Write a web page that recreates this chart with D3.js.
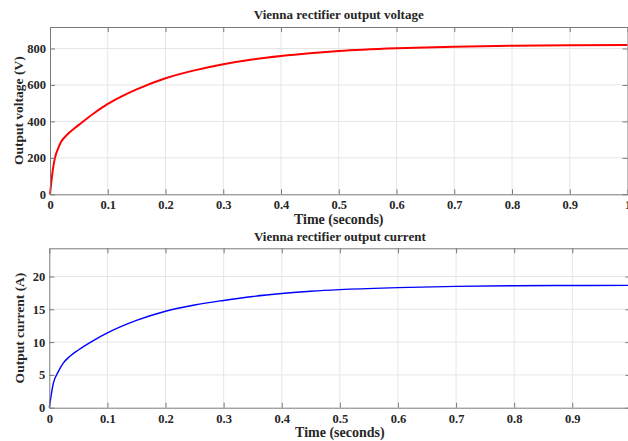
<!DOCTYPE html>
<html>
<head>
<meta charset="utf-8">
<script src="https://cdn.jsdelivr.net/npm/d3@7"></script>
<style>
  body { margin: 0; background: #fff; }
  svg { display: block; }
  text { font-family: "Liberation Serif", "Times New Roman", serif; font-weight: bold; fill: #262626; }
</style>
</head>
<body>
<div class="chart"></div>
<script>
// values
const timeV = [0, 0.0057, 0.0086, 0.0143, 0.02, 0.03, 0.04, 0.05, 0.075, 0.1, 0.125, 0.15, 0.2, 0.25, 0.3, 0.35, 0.4, 0.45, 0.5, 0.6, 0.7, 0.8, 0.9, 1.0];
const voltage = [0, 152, 200, 253, 292, 328, 356, 381, 442, 496, 539, 576, 637, 680, 714, 740, 759, 774, 786, 801, 810, 815, 818, 819];

const timeI = [0, 0.0069, 0.0155, 0.024, 0.035, 0.05, 0.075, 0.1, 0.15, 0.2, 0.25, 0.3, 0.35, 0.4, 0.45, 0.5, 0.6, 0.7, 0.8, 0.9, 1.0];
const current = [0, 3.7, 5.5, 6.8, 7.8, 8.8, 10.2, 11.4, 13.3, 14.7, 15.65, 16.35, 16.95, 17.4, 17.75, 18.0, 18.3, 18.5, 18.6, 18.63, 18.65];

const xTicks = [0, 0.1, 0.2, 0.3, 0.4, 0.5, 0.6, 0.7, 0.8, 0.9, 1];
const vTicks = [0, 200, 400, 600, 800];
const iTicks = [0, 5, 10, 15, 20];

const W = 628, H = 441;
const svg = d3.select('.chart')
  .append('svg')
  .attr('width', W)
  .attr('height', H);

function panel(opts) {
  const { left, right, top, bottom, ymax, yTicks, xs, ys, color, lw, title, ylabel, titleY, xlabelY } = opts;

  const x = d3.scaleLinear().domain([0, 1]).range([left, right]);
  const y = d3.scaleLinear().domain([0, ymax]).range([bottom, top]);

  const g = svg.append('g');

  // grid
  g.selectAll('.gx').data(xTicks.slice(1, -1)).join('line')
    .attr('x1', d => x(d)).attr('x2', d => x(d))
    .attr('y1', top).attr('y2', bottom)
    .attr('stroke', '#e6e6e6').attr('stroke-width', 1);
  g.selectAll('.gy').data(yTicks.slice(1)).join('line')
    .attr('x1', left).attr('x2', right)
    .attr('y1', d => y(d)).attr('y2', d => y(d))
    .attr('stroke', '#e6e6e6').attr('stroke-width', 1);

  // curve
  const line = d3.line()
    .x((d, i) => x(xs[i]))
    .y(d => y(d))
    .curve(d3.curveMonotoneX);
  g.append('path')
    .datum(ys)
    .attr('d', line)
    .attr('fill', 'none')
    .attr('stroke', color)
    .attr('stroke-width', lw);

  // axes: ticks inside on all four sides, box on
  const axisColor = '#7a7a7a';
  const styleAxis = sel => {
    sel.select('.domain').attr('stroke', axisColor);
    sel.selectAll('.tick line').attr('stroke', axisColor);
    sel.selectAll('.tick text')
      .style('font-family', '"Liberation Serif", serif')
      .style('font-weight', 'bold')
      .style('font-size', '12.5px')
      .attr('fill', '#262626');
  };

  g.append('g')
    .attr('transform', `translate(0, ${bottom})`)
    .call(d3.axisBottom(x).tickValues(xTicks).tickFormat(d3.format('')).tickSizeInner(-5).tickSizeOuter(0).tickPadding(6))
    .call(styleAxis);
  g.append('g')
    .attr('transform', `translate(0, ${top})`)
    .call(d3.axisTop(x).tickValues(xTicks).tickFormat('').tickSizeInner(-5).tickSizeOuter(0))
    .call(styleAxis);
  g.append('g')
    .attr('transform', `translate(${left}, 0)`)
    .call(d3.axisLeft(y).tickValues(yTicks).tickSizeInner(-5).tickSizeOuter(0).tickPadding(4))
    .call(styleAxis);
  g.append('g')
    .attr('transform', `translate(${right}, 0)`)
    .call(d3.axisRight(y).tickValues(yTicks).tickFormat('').tickSizeInner(-5).tickSizeOuter(0))
    .call(styleAxis);

  g.append('text')
    .attr('x', (left + right) / 2)
    .attr('y', titleY)
    .attr('text-anchor', 'middle')
    .style('font-size', '13px')
    .text(title);

  g.append('text')
    .attr('x', (left + right) / 2)
    .attr('y', xlabelY)
    .attr('text-anchor', 'middle')
    .style('font-size', '14px')
    .text('Time (seconds)');

  g.append('text')
    .attr('transform', `translate(${opts.ylabelX}, ${(top + bottom) / 2}) rotate(-90)`)
    .attr('text-anchor', 'middle')
    .style('font-size', '13.5px')
    .text(ylabel);
}

panel({
  left: 50, right: 627.5, top: 27, bottom: 194.3,
  ymax: 918, yTicks: vTicks, xs: timeV, ys: voltage,
  color: '#ff0000', lw: 2,
  title: 'Vienna rectifier output voltage',
  ylabel: 'Output voltage (V)',
  titleY: 19, xlabelY: 224, ylabelX: 23
});

panel({
  left: 49.3, right: 630.4, top: 248.3, bottom: 407.7,
  ymax: 24.3, yTicks: iTicks, xs: timeI, ys: current,
  color: '#0000ff', lw: 1.4,
  title: 'Vienna rectifier output current',
  ylabel: 'Output current (A)',
  titleY: 241, xlabelY: 437, ylabelX: 24
});
</script>
</body>
</html>
